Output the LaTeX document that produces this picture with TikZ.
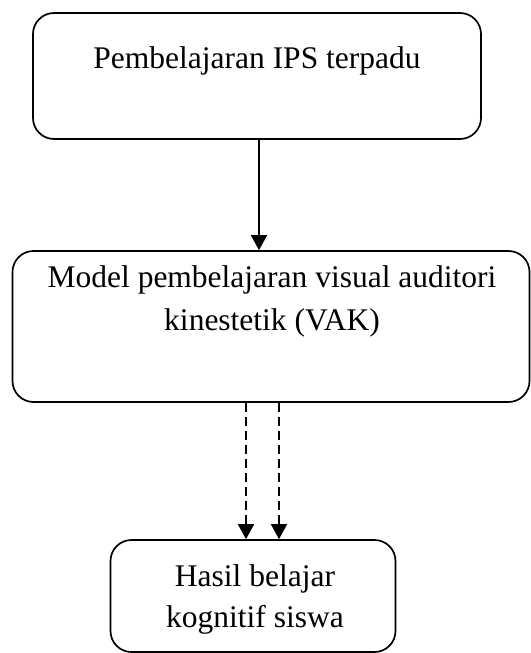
\documentclass[tikz,border=0pt]{standalone}
\usepackage{fontspec}
\setmainfont{Liberation Serif}
\usetikzlibrary{arrows.meta}
\begin{document}
\begin{tikzpicture}[x=1pt, y=-1pt,
    box/.style={draw, line width=1.7pt, rounded corners=21pt, inner sep=0pt},
    txt/.style={anchor=base, inner sep=0pt, font=\fontsize{31.5}{42}\selectfont},
    arr/.style={line width=1.7pt, -{Triangle[width=16pt, length=15pt]}}]
    % page size
    \useasboundingbox (0, 0) rectangle (530, 653);
    % boxes
    \node [box, minimum width=448pt, minimum height=126pt] (ips) at (257, 76) {};
    \node [box, minimum width=517pt, minimum height=151pt] (vak) at (271, 326.5) {};
    \node [box, minimum width=285pt, minimum height=112pt] (hasil) at (253, 596) {};
    % texts
    \node [txt] (ipstext) at (257, 68) {Pembelajaran IPS terpadu};
    \node [txt] (vaktext1) at (272, 287) {Model pembelajaran visual auditori};
    \node [txt] (vaktext2) at (272, 330) {kinestetik (VAK)};
    \node [txt] (hasiltext1) at (255, 586) {Hasil belajar};
    \node [txt] (hasiltext2) at (255, 627) {kognitif siswa};
    % arrows
    \draw [arr] ([xshift=2pt]ips.south) -- ([xshift=2pt]ips.south |- vak.north);
    \draw [arr, dash pattern=on 9pt off 5pt] ([xshift=-7pt]hasil.north |- vak.south) -- ([xshift=-7pt]hasil.north);
    \draw [arr, dash pattern=on 9pt off 5pt] ([xshift=26pt]hasil.north |- vak.south) -- ([xshift=26pt]hasil.north);
\end{tikzpicture}
\end{document}
